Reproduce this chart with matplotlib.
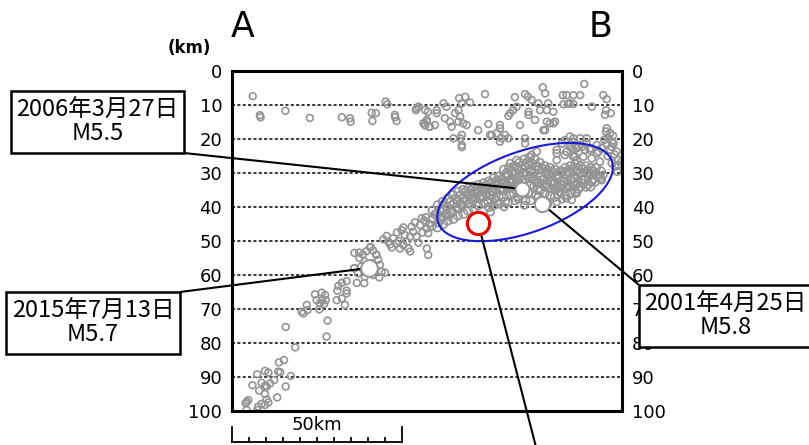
import matplotlib
matplotlib.use("Agg")
import matplotlib.pyplot as plt
from matplotlib.patches import Ellipse, Rectangle

plt.rcParams['font.family'] = ['DejaVu Sans']

# hypocentres: distance along A-B (km) and depth (km)
shallow_x = [6.1, 8.4, 8.2, 15.7, 22.9, 32.3, 34.7, 34.9, 41.1, 42.3, 41.3, 45.2, 45.7, 47.9, 48.4, 48.0,
             54.1, 54.8, 56.5, 56.8, 57.3, 57.6, 58.0, 54.3, 56.8, 57.3, 56.3, 58.2, 60.2, 60.2, 62.2, 63.1,
             62.6, 64.1, 64.6, 65.6, 66.6, 67.6, 67.1, 66.6, 68.0, 69.0, 70.0, 65.1, 67.1, 67.6, 72.4, 75.4,
             75.9, 77.8, 78.8, 79.3, 78.8, 80.3, 86.2, 86.2, 74.4, 91.4, 92.1, 103.6, 86.2, 87.0, 83.2, 88.1,
             97.3, 98.4, 100.4, 102.4, 109.2, 110.2, 97.5, 99.4, 93.0, 92.6, 94.5, 90.1, 90.6, 87.2, 87.2, 83.7,
             82.7, 81.8, 81.3, 89.1, 92.6, 95.0, 91.6, 105.8, 110.0, 111.4, 109.7, 93.5, 92.1, 100.4, 98.9,
             59.7, 67.6, 67.6, 78.8, 76.4, 81.3, 84.7, 94.5, 100.4, 104.3, 97.9, 66.8, 68.6]
shallow_d = [7.4, 13.6, 13.0, 11.7, 13.8, 13.6, 13.9, 14.9, 12.3, 12.4, 14.7, 9.0, 9.8, 12.9, 14.7, 13.6,
             11.5, 10.5, 15.3, 16.0, 14.4, 12.0, 16.4, 11.0, 11.5, 14.9, 15.4, 16.4, 11.5, 12.4, 9.5, 10.5,
             13.9, 14.9, 16.4, 12.4, 11.5, 9.5, 13.4, 14.9, 15.4, 15.9, 9.3, 19.8, 19.8, 22.4, 17.4, 15.6,
             18.8, 18.3, 16.9, 19.8, 20.8, 18.8, 19.8, 21.3, 6.8, 4.8, 6.6, 3.8, 6.8, 7.5, 7.7, 8.5,
             7.1, 7.1, 7.1, 7.1, 7.1, 8.3, 9.8, 9.5, 9.5, 11.5, 12.0, 9.5, 11.5, 12.9, 12.0, 10.5,
             11.5, 12.4, 13.2, 14.4, 14.9, 14.9, 17.4, 10.5, 11.5, 12.4, 12.9, 15.4, 17.4, 9.7, 9.7,
             15.9, 18.8, 21.8, 15.9, 18.8, 19.8, 15.9, 15.4, 19.8, 19.8, 20.3, 8.0, 7.6]

east_x = [110.2, 111.2, 110.7, 111.7, 110.2, 111.7, 111.2, 113.1, 114.6, 113.3, 111.7, 112.2, 113.6, 113.6,
          112.6, 110.0, 112.0, 109.5, 112.5, 110.5, 102.4, 100.4, 99.9, 101.9, 104.3, 105.3, 107.8, 107.3,
          99.4, 97.0, 95.5, 95.5, 97.9, 100.4, 105.8, 108.2, 99.4, 100.4, 102.9, 103.8, 100.9, 107.3,
          81.8, 83.7, 88.1, 89.6, 95.5, 98.4, 101.4, 103.3, 105.3, 108.7, 101.4,
          99.9, 98.4, 97.0, 101.4, 108.7, 109.2, 93.0, 95.5, 80.0, 76.0, 86.0]
east_d = [16.9, 18.3, 19.8, 20.8, 21.3, 22.3, 23.2, 23.7, 26.7, 29.6, 27.1, 21.3, 26.2, 27.6,
          28.1, 17.8, 19.0, 20.2, 24.5, 25.0, 19.8, 20.8, 22.7, 22.3, 21.3, 22.7, 23.7, 21.8,
          19.3, 21.3, 23.2, 26.2, 24.7, 25.2, 25.7, 26.7, 22.3, 23.2, 22.3, 23.2, 25.2, 24.2,
          27.1, 26.2, 24.7, 23.7, 24.2, 23.7, 26.2, 25.2, 23.2, 22.7, 22.7,
          37.9, 37.4, 37.7, 36.0, 32.1, 30.6, 39.0, 38.5, 40.0, 41.5, 39.5]

cluster_x = [59.0, 59.2, 58.8, 60.5, 60.3, 60.7, 60.4, 62.0, 62.2, 61.8, 62.1, 63.5, 63.3, 63.7, 63.4,
             65.0, 65.2, 64.8, 65.1, 66.5, 66.3, 66.7, 66.4, 68.0, 68.2, 67.8, 68.1, 69.5, 69.3, 69.7, 69.4,
             71.0, 71.2, 70.8, 71.1, 72.5, 72.3, 72.7, 72.4, 74.0, 74.2, 73.8, 74.1, 75.5, 75.3, 75.7, 75.4,
             75.6, 77.0, 77.2, 76.8, 77.1, 76.9, 78.5, 78.3, 78.7, 78.4, 78.6, 80.0, 80.2, 79.8, 80.1, 79.9,
             80.3, 81.5, 81.3, 81.7, 81.4, 81.6, 81.2, 83.0, 83.2, 82.8, 83.1, 82.9, 83.3, 84.5, 84.3, 84.7,
             84.4, 84.6, 84.2, 86.0, 86.2, 85.8, 86.1, 85.9, 86.3, 87.5, 87.3, 87.7, 87.4, 87.6, 87.2, 87.8,
             89.0, 89.2, 88.8, 89.1, 88.9, 89.3, 90.5, 90.3, 90.7, 90.4, 90.6, 90.2, 92.0, 92.2, 91.8, 92.1,
             91.9, 93.5, 93.3, 93.7, 93.4, 93.6, 95.0, 95.2, 94.8, 95.1, 94.9, 96.5, 96.3, 96.7, 96.4,
             98.0, 98.2, 97.8, 98.1, 97.9, 99.5, 99.3, 99.7, 99.4, 99.6, 101.0, 101.2, 100.8, 101.1, 100.9,
             102.5, 102.3, 102.7, 102.4, 104.0, 104.2, 103.8, 104.1, 105.5, 105.3, 105.7, 105.4, 107.0,
             107.2, 106.8, 108.5, 108.3,
             # staggered second pass through the dense band
             59.8, 61.3, 61.1, 62.8, 62.9, 64.2, 64.4, 65.8, 65.9, 67.3, 67.2, 68.8, 68.7, 70.2, 70.3,
             71.8, 71.7, 73.3, 73.2, 74.8, 74.7, 76.3, 76.2, 77.8, 77.7, 79.2, 79.3, 80.8, 80.7, 82.3,
             82.2, 83.8, 83.7, 85.2, 85.3, 86.8, 86.7, 88.2, 88.3, 89.8, 89.7, 91.3, 91.2, 92.8, 92.7,
             94.2, 94.3, 95.8, 95.7, 97.2, 97.3, 98.8, 98.7, 100.2, 100.3, 101.8, 101.7, 103.2, 103.3,
             104.8, 104.7, 106.2, 106.3, 107.8, 77.9, 84.0, 89.9, 95.9, 101.9]
cluster_d = [41.0, 43.5, 45.5, 39.5, 42.0, 44.5, 46.0, 38.5, 41.0, 43.0, 45.0, 37.5, 40.0, 42.5, 44.0,
             36.5, 39.0, 41.5, 43.5, 35.5, 38.0, 40.5, 42.5, 35.0, 37.5, 39.5, 42.0, 34.5, 36.5, 39.0, 41.0,
             34.0, 36.0, 38.0, 40.5, 33.5, 35.5, 37.5, 39.5, 33.0, 35.0, 37.0, 39.0, 32.5, 34.5, 36.5, 38.5,
             40.0, 31.5, 33.5, 35.5, 37.5, 39.5, 31.0, 33.0, 35.0, 37.0, 39.0, 29.0, 31.0, 33.0, 35.0, 37.0,
             38.5, 28.5, 30.5, 32.5, 34.5, 36.5, 38.5, 28.0, 30.0, 32.0, 34.0, 36.0, 38.0, 27.0, 29.0, 31.0,
             33.0, 35.5, 37.5, 26.0, 28.0, 30.0, 32.0, 36.0, 38.0, 25.5, 27.5, 29.5, 31.5, 33.5, 36.0, 38.0,
             26.0, 28.0, 30.0, 32.0, 34.0, 36.5, 27.0, 29.0, 31.0, 33.0, 35.0, 37.0, 28.0, 30.0, 32.0, 34.0,
             36.0, 28.5, 30.5, 32.5, 34.5, 36.5, 29.0, 31.0, 33.0, 35.0, 37.0, 29.5, 31.5, 33.5, 35.5,
             28.5, 30.5, 32.5, 34.5, 36.5, 28.0, 30.0, 32.0, 34.0, 36.0, 27.5, 29.5, 31.5, 33.5, 35.5,
             28.0, 30.0, 32.0, 34.0, 28.0, 30.0, 32.0, 34.0, 28.5, 30.5, 32.5, 34.0, 28.5,
             30.5, 32.5, 29.5, 31.5,
             42.2, 40.7, 43.6, 39.6, 42.1, 38.6, 41.4, 37.6, 40.2, 36.6, 39.2, 35.6, 38.1, 35.1, 37.4,
             34.8, 37.0, 34.3, 36.6, 33.8, 36.0, 33.0, 35.2, 32.4, 34.6, 32.0, 34.3, 30.0, 33.8, 29.5,
             33.0, 28.5, 32.8, 28.0, 32.0, 27.0, 30.6, 27.2, 31.0, 28.1, 32.9, 28.8, 32.1, 29.3, 33.2,
             29.8, 33.5, 30.4, 34.3, 29.6, 33.6, 29.4, 33.4, 28.9, 32.8, 28.8, 32.7, 29.0, 33.1,
             29.5, 33.3, 29.6, 31.7, 30.9, 38.3, 36.8, 34.9, 36.2, 34.6]

mid_x = [46.0, 47.4, 48.4, 47.0, 49.4, 50.4, 49.9, 50.4, 51.4, 52.4, 53.3, 52.8, 54.3, 55.3, 55.8, 57.3,
         57.3, 57.7, 57.7, 51.9, 52.4, 40.6, 42.4, 37.4, 41.5, 44.5, 45.5, 48.5, 50.8, 53.8, 56.5, 56.0,
         54.8, 49.0, 46.5, 58.0, 57.0,
         36.0, 37.5, 38.5, 39.5, 40.8, 42.5, 43.0, 39.0, 41.0, 43.5, 38.0, 42.0, 44.0, 45.0, 43.3, 36.0,
         37.0, 41.5, 39.0]
mid_d = [50.2, 49.2, 50.7, 51.9, 52.2, 51.2, 46.8, 46.0, 50.2, 48.7, 47.3, 45.8, 48.7, 45.3, 43.3, 46.3,
         52.2, 54.1, 47.7, 52.2, 53.1, 51.9, 54.1, 53.4, 52.8, 49.5, 48.5, 47.5, 48.2, 44.5, 44.0, 47.5,
         50.5, 50.0, 51.0, 45.0, 43.0,
         53.5, 55.0, 54.0, 53.0, 51.7, 54.0, 55.5, 56.0, 56.5, 57.0, 57.5, 59.0, 59.0, 59.3, 60.7, 58.0,
         59.5, 60.0, 60.5]

deep_x = [38.9, 36.7, 35.9, 33.7, 32.3, 31.3, 31.0, 33.7, 33.7, 30.8, 32.3, 33.2, 24.4, 26.4, 27.4, 24.9,
          26.4, 27.6, 25.9, 27.1, 25.7, 22.0, 20.5, 21.0, 22.2, 28.1, 15.8, 27.8, 18.6, 13.8, 15.3, 17.3,
          9.7, 10.7, 13.6, 14.2, 7.4, 6.0, 8.7, 9.7, 10.2, 11.2, 12.4, 8.0, 9.7, 15.8, 13.3, 10.2, 10.7,
          9.7, 4.3, 4.0, 4.8, 7.7, 7.4, 4.3, 8.7]
deep_d = [62.4, 62.3, 58.0, 61.8, 62.3, 63.2, 64.6, 64.6, 65.4, 67.4, 66.9, 68.8, 65.7, 65.2, 65.9, 67.4,
          67.4, 67.4, 68.3, 68.5, 70.1, 68.8, 70.8, 71.3, 70.3, 73.4, 75.3, 78.1, 81.3, 85.7, 85.0, 89.7,
          88.2, 88.7, 88.4, 88.6, 89.2, 92.4, 91.7, 92.6, 92.8, 91.9, 90.9, 94.0, 95.0, 92.8, 96.0, 96.6, 97.5,
          98.2, 97.3, 97.7, 96.8, 98.7, 99.7, 99.7, 97.9]

# main shocks
big_x = [85.3, 40.4, 91.2]
big_d = [34.7, 57.9, 39.1]
big_size = [10, 12, 11]
big_labels = ["2006年3月27日\nM5.5", "2015年7月13日\nM5.7", "2001年4月25日\nM5.8"]
red_x, red_d = 72.4, 44.8

depth_ticks = list(range(0, 101, 10))
scale_km = 50

W, H = 809, 445
fig = plt.figure(figsize=(W / 100, H / 100), dpi=100)
ax = fig.add_axes([232 / W, 34 / H, 390 / W, 340 / H])
ax.set_xlim(0, 114.7)
ax.set_ylim(100, 0)

for d in depth_ticks[1:-1]:
    ax.axhline(d, color='black', lw=1.1, ls=(0, (2, 1.5)), zorder=1)

grey = '#949494'
for xs, ds, sz in [(shallow_x, shallow_d, 24), (east_x, east_d, 26), (cluster_x, cluster_d, 36),
                   (mid_x, mid_d, 24), (deep_x, deep_d, 24)]:
    ax.scatter(xs, ds, s=sz, facecolors='none', edgecolors=grey, linewidths=1.2, zorder=2)

ax.add_patch(Ellipse((86.2, 35.6), 54.2, 23.8, angle=-19.7, fill=False,
                     edgecolor='#1a1ad6', lw=1.5, zorder=4))

# leader lines (figure pixel anchors of the label boxes)
anchors = [(184, H - 153), (180, H - 292), (639, H - 285)]
for (bx, by), x, d in zip(anchors, big_x, big_d):
    ax.annotate('', xy=(x, d), xytext=(bx, by), textcoords='figure pixels',
                arrowprops=dict(arrowstyle='-', lw=1.5, color='black', shrinkA=0, shrinkB=0),
                annotation_clip=False, zorder=5)
ax.annotate('', xy=(red_x, red_d), xytext=(536, -2), textcoords='figure pixels',
            arrowprops=dict(arrowstyle='-', lw=1.5, color='black', shrinkA=0, shrinkB=0),
            annotation_clip=False, zorder=5)

for x, d, ms in zip(big_x, big_d, big_size):
    ax.plot(x, d, 'o', ms=ms, mfc='white', mec=grey, mew=1.4, zorder=6)
ax.plot(red_x, red_d, 'o', ms=16, mfc='white', mec='#ee0000', mew=2.2, zorder=6)

for s in ax.spines.values():
    s.set_linewidth(2.2)
ax.set_xticks([])
ax.set_yticks(depth_ticks)
ax.tick_params(axis='y', length=0, labelsize=13, pad=7, labelright=True)

# label boxes
boxes = [(11, 91, 173, 62), (6, 292, 174, 62), (639, 285, 173, 62)]
for (x0, y0, w, h), lab in zip(boxes, big_labels):
    fig.add_artist(Rectangle((x0 / W, (H - y0 - h) / H), w / W, h / H, transform=fig.transFigure,
                             fill=True, facecolor='white', edgecolor='black', lw=1.8,
                             clip_on=False, zorder=10))
    fig.text((x0 + w / 2) / W, (H - y0 - h / 2) / H, lab, ha='center', va='center',
             fontsize=17, linespacing=1.0, family=['Noto Sans CJK JP', 'DejaVu Sans'], zorder=11)

fig.text(243 / W, (H - 27) / H, 'A', fontsize=25, ha='center', va='center')
fig.text(601 / W, (H - 27) / H, 'B', fontsize=25, ha='center', va='center')
fig.text(189 / W, (H - 48) / H, '(km)', fontsize=12, fontweight='bold', ha='center', va='center')

# scale bar
bar = ax.get_xaxis_transform()
y_bar, y_minor, y_major = -0.0903, -0.0794, -0.047
ax.plot([0, scale_km], [y_bar, y_bar], color='black', lw=1.3, transform=bar, clip_on=False)
for k in range(0, scale_km + 1, 5):
    top = y_major if k in (0, scale_km) else y_minor
    ax.plot([k, k], [y_bar, top], color='black', lw=1.3, transform=bar, clip_on=False)
ax.text(scale_km / 2, -0.04, f'{scale_km}km', fontsize=13, ha='center', va='center',
        transform=bar)

fig.savefig('out.png', dpi=100)
